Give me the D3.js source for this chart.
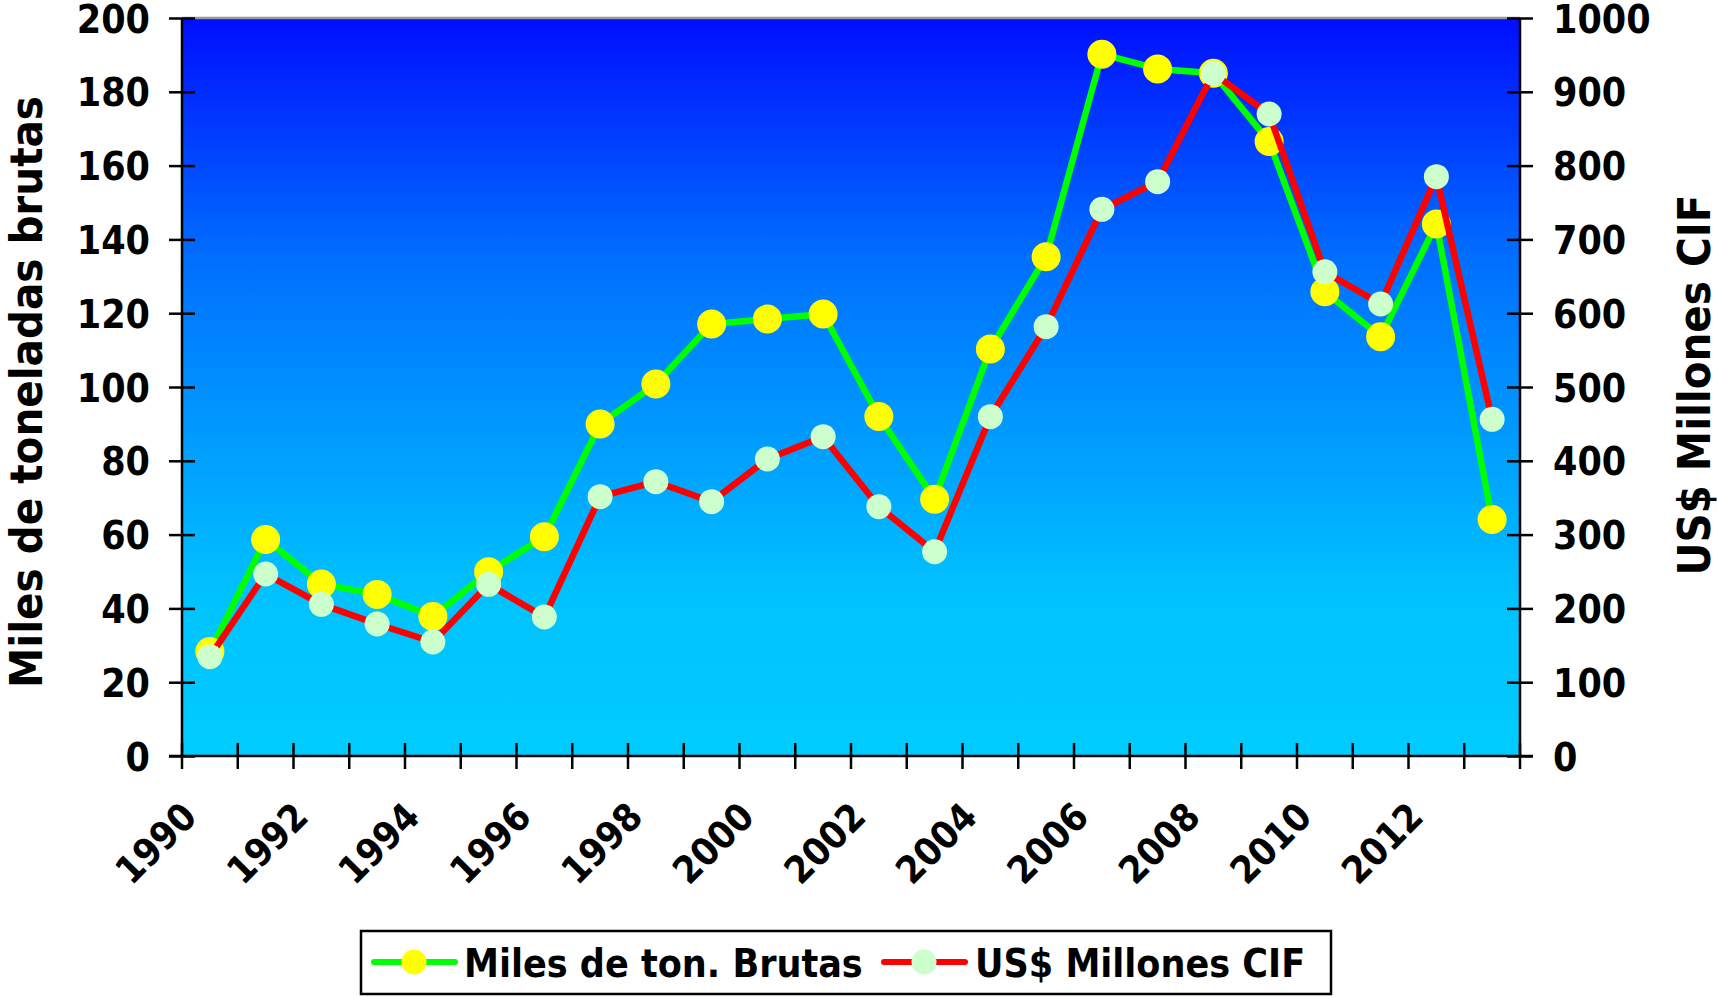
<!DOCTYPE html>
<html>
<head>
<meta charset="utf-8">
<script src="https://cdn.jsdelivr.net/npm/d3@7"></script>
<style>
  html, body { margin: 0; padding: 0; background: #ffffff; }
  svg text { font-family: "DejaVu Sans Condensed", "DejaVu Sans", sans-serif; font-weight: bold; font-stretch: condensed; fill: #000; }
</style>
</head>
<body>
<svg id="chart" width="1717" height="997"></svg>
<script>
const years = [1990,1991,1992,1993,1994,1995,1996,1997,1998,1999,2000,2001,2002,2003,2004,2005,2006,2007,2008,2009,2010,2011,2012,2013];
const tonnes = [28.3,58.7,46.6,43.8,37.8,49.9,59.4,90.0,100.8,117.1,118.4,119.8,92.0,69.6,110.3,135.3,190.2,186.2,185.0,166.5,125.8,113.6,144.2,64.1];
const cifUSD = [134.6,246.6,205.5,178.9,154.5,232.6,188.3,351.4,371.7,344.6,402.4,432.7,337.8,276.8,459.8,581.7,740.7,778.2,925.0,869.9,656.2,612.5,785.0,456.2];
const leftTicks = [0,20,40,60,80,100,120,140,160,180,200];
const rightTicks = [0,100,200,300,400,500,600,700,800,900,1000];
const labelYears = [1990,1992,1994,1996,1998,2000,2002,2004,2006,2008,2010,2012];
const seriesNames = ["Miles de ton. Brutas", "US$ Millones CIF"];
const leftTitle = "Miles de toneladas brutas";
const rightTitle = "US$ Millones CIF";

const svg = d3.select("#chart");
const L = 182, R = 1520, T = 18, B = 756;

const x = d3.scaleBand().domain(years).range([L, R]).padding(0);
const yL = d3.scaleLinear().domain([0, 200]).range([B, T]);
const yR = d3.scaleLinear().domain([0, 1000]).range([B, T]);

// gradient background
const defs = svg.append("defs");
const grad = defs.append("linearGradient").attr("id", "bg").attr("x1", 0).attr("y1", 0).attr("x2", 0).attr("y2", 1);
grad.append("stop").attr("offset", "0%").attr("stop-color", "rgb(0,14,255)");
grad.append("stop").attr("offset", "33%").attr("stop-color", "rgb(0,112,255)");
grad.append("stop").attr("offset", "78%").attr("stop-color", "rgb(0,194,255)");
grad.append("stop").attr("offset", "100%").attr("stop-color", "rgb(0,204,255)");

svg.append("rect").attr("x", L).attr("y", T).attr("width", R - L).attr("height", B - T).attr("fill", "url(#bg)");
svg.append("line").attr("x1", L).attr("x2", R).attr("y1", T).attr("y2", T).attr("stroke", "#999").attr("stroke-width", 2.5);

// left axis
const gL = svg.append("g").attr("transform", `translate(${L},0)`)
  .call(d3.axisLeft(yL).tickValues(leftTicks).tickFormat(d3.format("d")).tickSize(13).tickPadding(19));
gL.select(".domain").remove();
gL.selectAll(".tick line").attr("x1", 13).attr("stroke", "#000").attr("stroke-width", 2.5);
gL.selectAll(".tick text").style("font-size", "39px").attr("dy", "0.36em");
gL.append("line").attr("x1", 0).attr("x2", 0).attr("y1", T).attr("y2", B).attr("stroke", "#000").attr("stroke-width", 2.5);

// right axis
const gR = svg.append("g").attr("transform", `translate(${R},0)`)
  .call(d3.axisRight(yR).tickValues(rightTicks).tickFormat(d3.format("d")).tickSize(13).tickPadding(20));
gR.select(".domain").remove();
gR.selectAll(".tick line").attr("x1", -13).attr("stroke", "#000").attr("stroke-width", 2.5);
gR.selectAll(".tick text").style("font-size", "39px").attr("dy", "0.36em");
gR.append("line").attr("x1", 0).attr("x2", 0).attr("y1", T).attr("y2", B).attr("stroke", "#000").attr("stroke-width", 2.5);

// bottom axis
const gB = svg.append("g").attr("transform", `translate(0,${B})`)
  .call(d3.axisBottom(x).tickValues(labelYears).tickSize(0));
gB.select(".domain").remove();
gB.selectAll(".tick text")
  .style("font-size", "38px")
  .attr("x", 0).attr("y", 0).attr("dy", 0)
  .attr("text-anchor", "end")
  .attr("transform", "translate(-11,63) rotate(-45)");
const bounds = years.map(d => x(d)).concat([x.range()[1]]);
gB.selectAll("line.bt").data(bounds).join("line").attr("class", "bt")
  .attr("x1", d => d).attr("x2", d => d).attr("y1", -13).attr("y2", 13)
  .attr("stroke", "#000").attr("stroke-width", 2.5);
gB.append("line").attr("x1", L - 13).attr("x2", R + 13).attr("y1", 0).attr("y2", 0).attr("stroke", "#000").attr("stroke-width", 2.5);

// series
const cx = d => x(d) + x.bandwidth() / 2;
const lineL = d3.line().x((d, i) => cx(years[i])).y(d => yL(d));
const lineR = d3.line().x((d, i) => cx(years[i])).y(d => yR(d));

svg.append("path").datum(tonnes).attr("d", lineL).attr("fill", "none").attr("stroke", "#00ff00").attr("stroke-width", 6.5).attr("stroke-linejoin", "round");
svg.append("g").selectAll("circle").data(tonnes).join("circle")
  .attr("cx", (d, i) => cx(years[i])).attr("cy", d => yL(d)).attr("r", 14.5).attr("fill", "#ffff00");

svg.append("path").datum(cifUSD).attr("d", lineR).attr("fill", "none").attr("stroke", "#ff0000").attr("stroke-width", 6.5).attr("stroke-linejoin", "round");
svg.append("g").selectAll("circle").data(cifUSD).join("circle")
  .attr("cx", (d, i) => cx(years[i])).attr("cy", d => yR(d)).attr("r", 12.5).attr("fill", "#ccffcc");

// axis titles
svg.append("text").attr("transform", `translate(42,${(T + B) / 2 + 5}) rotate(-90)`)
  .attr("text-anchor", "middle").style("font-size", "45px").text(leftTitle);
svg.append("text").attr("transform", `translate(1710,${(T + B) / 2 - 2}) rotate(-90)`)
  .attr("text-anchor", "middle").style("font-size", "45px").text(rightTitle);

// legend
const lg = svg.append("g");
lg.append("rect").attr("x", 361).attr("y", 931).attr("width", 970).attr("height", 63)
  .attr("fill", "#fff").attr("stroke", "#000").attr("stroke-width", 2.5);
const legItems = [
  { name: seriesNames[0], line: "#00ff00", mark: "#ffff00", x0: 374, tx: 464 },
  { name: seriesNames[1], line: "#ff0000", mark: "#ccffcc", x0: 884, tx: 975 }
];
legItems.forEach(it => {
  lg.append("line").attr("x1", it.x0).attr("x2", it.x0 + 81).attr("y1", 962).attr("y2", 962)
    .attr("stroke", it.line).attr("stroke-width", 6).attr("stroke-linecap", "round");
  lg.append("circle").attr("cx", it.x0 + 40).attr("cy", 962).attr("r", 12.5).attr("fill", it.mark);
  lg.append("text").attr("x", it.tx).attr("y", 977).style("font-size", "39px").text(it.name);
});
</script>
</body>
</html>
